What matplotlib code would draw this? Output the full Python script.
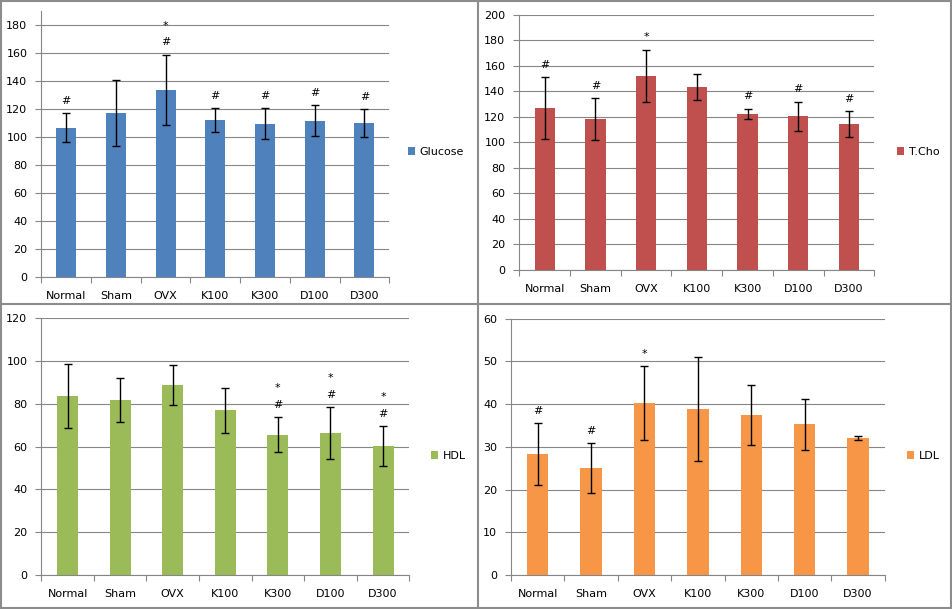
import numpy as np
import matplotlib
matplotlib.use("Agg")
from matplotlib import pyplot as plt
from matplotlib.lines import Line2D

groups = ["Normal", "Sham", "OVX", "K100", "K300", "D100", "D300"]

# values (mean, error)
glucose = [106.5, 117.2, 133.6, 112.2, 109.4, 111.5, 110.1]
glucose_err = [10.3, 23.5, 25.2, 8.3, 11.0, 11.1, 9.9]
glucose_marks = ["#", "", "*#", "#", "#", "#", "#"]

tcho = [126.9, 118.3, 152.0, 143.3, 122.2, 120.4, 114.4]
tcho_err = [24.0, 16.2, 20.4, 10.4, 4.2, 11.6, 10.0]
tcho_marks = ["#", "#", "*", "", "#", "#", "#"]

hdl = [83.7, 81.8, 88.8, 77.1, 65.5, 66.4, 60.2]
hdl_err = [14.8, 10.3, 9.4, 10.5, 8.2, 12.0, 9.4]
hdl_marks = ["", "", "", "", "*#", "*#", "*#"]

ldl = [28.3, 25.0, 40.2, 38.8, 37.4, 35.3, 32.1]
ldl_err = [7.2, 5.8, 8.7, 12.2, 7.0, 6.0, 0.4]
ldl_marks = ["#", "#", "*", "", "", "", ""]

W, H = 952, 609
fig = plt.figure(figsize=(W / 100, H / 100), dpi=100)
plt.rcParams["font.family"] = "DejaVu Sans"
GRID = "#868686"


def px_axes(x0, x1, ytop, ybot):
    return fig.add_axes([x0 / W, 1 - ybot / H, (x1 - x0) / W, (ybot - ytop) / H])


def panel(ax, vals, errs, marks, name, color, ymax, step, leg_xy):
    x = np.arange(len(groups))
    ax.bar(x, vals, width=0.4, color=color, zorder=2, label=name)
    ax.errorbar(x, vals, yerr=errs, fmt="none", ecolor="black", elinewidth=1,
                capsize=2.7, capthick=1, zorder=3)
    for i, m in enumerate(marks):
        top = vals[i] + errs[i]
        if "#" in m:
            ax.annotate("#", (x[i], top), xytext=(0, 9), textcoords="offset points",
                        ha="center", va="center", fontsize=8)
        if "*" in m:
            off = 21 if "#" in m else 9
            ax.annotate("*", (x[i], top), xytext=(0, off), textcoords="offset points",
                        ha="center", va="center", fontsize=8)
    ax.set_xlim(-0.5, len(groups) - 0.5)
    ax.set_ylim(0, ymax)
    ax.set_yticks(np.arange(0, ymax + 0.1, step))
    ax.yaxis.grid(True, color=GRID, linewidth=0.8, zorder=0)
    ax.set_axisbelow(True)
    ax.set_xticks(np.arange(-0.5, len(groups)), labels=[""] * (len(groups) + 1))
    ax.set_xticks(x, labels=groups, minor=True)
    ax.tick_params(axis="x", which="major", length=4, color=GRID)
    ax.tick_params(axis="x", which="minor", length=0, pad=10, labelsize=8)
    ax.tick_params(axis="y", length=4, color=GRID, pad=6, labelsize=8)
    for s in ["top", "right"]:
        ax.spines[s].set_visible(False)
    for s in ["left", "bottom"]:
        ax.spines[s].set_color(GRID)
    ax.legend(loc="center left", bbox_to_anchor=(leg_xy[0] / W, 1 - leg_xy[1] / H),
              bbox_transform=fig.transFigure, frameon=False, fontsize=8,
              handlelength=0.7, handleheight=0.7, handletextpad=0.4, borderpad=0)


ax1 = px_axes(41.3, 389.3, 11, 277)
panel(ax1, glucose, glucose_err, glucose_marks, "Glucose", "#4F81BD", 190, 20, (402, 152))

ax2 = px_axes(519.3, 874.3, 14.7, 270)
panel(ax2, tcho, tcho_err, tcho_marks, "T.Cho", "#C0504D", 200, 20, (891, 152))

ax3 = px_axes(41.3, 409.3, 318.3, 575)
panel(ax3, hdl, hdl_err, hdl_marks, "HDL", "#9BBB59", 120, 20, (425, 456))

ax4 = px_axes(511, 884.7, 318.7, 575)
panel(ax4, ldl, ldl_err, ldl_marks, "LDL", "#F79646", 60, 10, (901, 456))

# panel frames
BORDER = "#8C8C8C"
for xs, ys in [([478 / W, 478 / W], [0, 1]),
               ([0, 1], [1 - 303.5 / H, 1 - 303.5 / H]),
               ([0.001, 0.001], [0, 1]), ([0.999, 0.999], [0, 1]),
               ([0, 1], [0.002, 0.002]), ([0, 1], [0.998, 0.998])]:
    fig.add_artist(Line2D(xs, ys, color=BORDER, linewidth=1.5))

fig.savefig("out.png", dpi=100)
